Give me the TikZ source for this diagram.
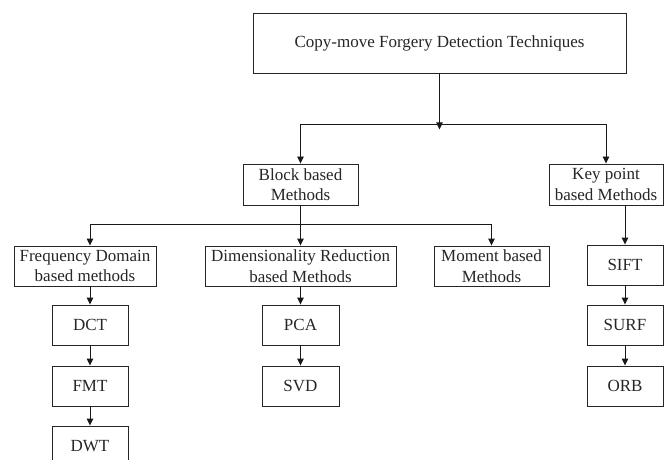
\documentclass[tikz,border=0pt]{standalone}
\usepackage{fontspec}
\setmainfont{Liberation Serif}
\usetikzlibrary{arrows.meta}
\begin{document}
\begin{tikzpicture}[x=1pt,y=-1pt,
  box/.style={draw=black!85, line width=0.9pt, fill=white, inner sep=0pt,
    align=center, text=black!85, font=\fontsize{17}{20.5}\selectfont},
  arr/.style={draw=black!90, line width=0.9pt, -{Triangle[length=7pt,width=6.5pt]}},
  ln/.style={draw=black!90, line width=0.9pt}]
\useasboundingbox (0,0) rectangle (665,460);

% root
\node[box, minimum width=373pt, minimum height=60pt] (top) at (439.5,43) {Copy-move Forgery Detection Techniques};

% two families
\node[box, minimum width=115pt, minimum height=41pt] (block) at (300.5,184.5) {Block based\\Methods};
\node[box, minimum width=114pt, minimum height=41pt] (key) at (606,184.5) {Key point\\based Methods};

% block based sub-groups
\node[box, minimum width=142pt, minimum height=40pt] (freq) at (85,266) {Frequency Domain\\based methods};
\node[box, minimum width=191pt, minimum height=40pt] (dim) at (300.5,266) {Dimensionality Reduction\\based Methods};
\node[box, minimum width=115pt, minimum height=40pt] (mom) at (491.5,266) {Moment based\\Methods};

% leaves
\node[box, minimum width=76pt, minimum height=40pt] (dct) at (90,325) {DCT};
\node[box, minimum width=76pt, minimum height=40pt] (fmt) at (90,386) {FMT};
\node[box, minimum width=76pt, minimum height=40pt] (dwt) at (90,446) {DWT};
\node[box, minimum width=77pt, minimum height=40pt] (pca) at (300.5,325) {PCA};
\node[box, minimum width=77pt, minimum height=40pt] (svd) at (300.5,386) {SVD};
\node[box, minimum width=76pt, minimum height=40pt] (sift) at (625,265) {SIFT};
\node[box, minimum width=76pt, minimum height=40pt] (surf) at (625,325) {SURF};
\node[box, minimum width=76pt, minimum height=40pt] (orb) at (625,386) {ORB};

% root split
\coordinate (tj) at (439.5,124);
\draw[arr] (top.south) -- ++(0,56);
\draw[ln] (block.north |- tj) -- (key.north |- tj);
\draw[arr] (block.north |- tj) -- (block.north);
\draw[arr] (key.north |- tj) -- (key.north);

% block based split
\coordinate (bj) at (300.5,224);
\draw[ln] (block.south) -- (bj);
\draw[ln] (dct.north |- bj) -- (mom.north |- bj);
\draw[arr] (dct.north |- bj) -- (freq.north -| dct.north);
\draw[arr] (bj) -- (dim.north);
\draw[arr] (mom.north |- bj) -- (mom.north);

% chains
\draw[arr] (freq.south -| dct.north) -- (dct.north);
\draw[arr] (dct) -- (fmt);
\draw[arr] (fmt) -- (dwt);
\draw[arr] (dim.south) -- (pca.north);
\draw[arr] (pca) -- (svd);
\draw[arr] (key.south -| sift.north) -- (sift.north);
\draw[arr] (sift) -- (surf);
\draw[arr] (surf) -- (orb);
\end{tikzpicture}
\end{document}
